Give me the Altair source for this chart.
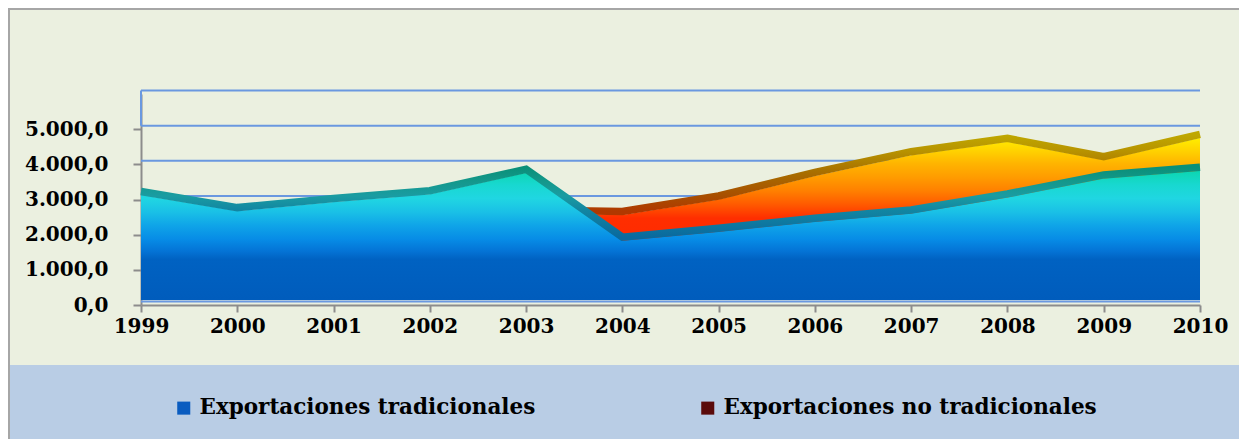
import altair as alt
import pandas as pd

# ---- data ----
years = [1999, 2000, 2001, 2002, 2003, 2004, 2005, 2006, 2007, 2008, 2009, 2010]
tradicionales = [3130, 2670, 2930, 3150, 3760, 1830, 2080, 2370, 2600, 3060, 3600, 3820]
nt_years = [2003, 2004, 2005, 2006, 2007, 2008, 2009, 2010]
no_tradicionales = [2600, 2560, 3000, 3670, 4260, 4640, 4120, 4750]
series_names = ["Exportaciones tradicionales", "Exportaciones no tradicionales"]
legend_colors = ["#0A5CC0", "#5A0A0A"]
y_tick_values = [0, 1000, 2000, 3000, 4000, 5000]
grid_levels = [0, 1000, 2000, 3000, 4000, 5000, 6000]
wall_top = [6000]
wall_bottom = [5000]

df_trad = pd.DataFrame({"year": years, "value": tradicionales, "serie": series_names[0]})
df_nt = pd.DataFrame({"year": nt_years, "value": no_tradicionales, "serie": series_names[1]})
df_long = pd.concat([df_trad, df_nt], ignore_index=True)
df_grid = pd.DataFrame({"v": grid_levels})
df_wall = pd.DataFrame({"a": wall_top, "b": wall_bottom})
dummy = pd.DataFrame({"d": [0]})

FONT = "DejaVu Serif"

xscale = alt.Scale(domain=[1999, 2010], nice=False, zero=False)
yscale = alt.Scale(domain=[0, 6000], nice=False)

x_axis = alt.Axis(
    title=None, values=years, format="d", labelFlush=False, labelOverlap=False,
    labelFont=FONT, labelFontSize=20, labelFontWeight="bold", labelColor="#000000",
    tickColor="#8C8C8C", tickSize=7, tickWidth=2, domainColor="#8C8C8C", domainWidth=2,
    labelPadding=4, grid=False,
)
y_axis = alt.Axis(
    title=None, values=y_tick_values, labelFlush=False,
    labelExpr="replace(replace(replace(format(datum.value, ',.1f'), ',', 'X'), '.', ','), 'X', '.')",
    labelFont=FONT, labelFontSize=20, labelFontWeight="bold", labelColor="#000000",
    tickColor="#8C8C8C", tickSize=8, tickWidth=2, domainColor="#8C8C8C", domainWidth=2,
    labelPadding=25, grid=False,
)


def grad(stops):
    return alt.Gradient(
        gradient="linear", x1=0, x2=0, y1=0, y2=1,
        stops=[alt.GradientStop(color=c, offset=o) for o, c in stops],
    )


blue_fill = grad([
    (0.0, "#0CD6B0"), (0.11, "#18D8D0"), (0.215, "#20D6E2"), (0.32, "#1AC0E6"),
    (0.424, "#0FA4E8"), (0.53, "#078CE6"), (0.62, "#0474D6"), (0.686, "#0062C2"),
    (1.0, "#005CBC"),
])
orange_fill = grad([
    (0.0, "#FFEE00"), (0.074, "#FFD400"), (0.158, "#FFB400"), (0.242, "#FF9C00"),
    (0.326, "#FF8000"), (0.41, "#FF5A00"), (0.495, "#FF2E00"), (1.0, "#FF2000"),
])
blue_line = grad([
    (0.0, "#0A9078"), (0.21, "#14988C"), (0.41, "#1A9CA2"), (0.61, "#1286A2"), (1.0, "#0A6A9E"),
])
orange_line = grad([
    (0.0, "#BFA800"), (0.205, "#B89400"), (0.48, "#A87000"), (0.8, "#A84E00"), (1.0, "#B03800"),
])

# decorations: legend band and frame
band = alt.Chart(dummy).mark_rect(color="#B9CDE5").encode(
    x=alt.value(-131), x2=alt.value(1098), y=alt.value(271), y2=alt.value(345)
)
frame_left = alt.Chart(dummy).mark_rule(color="#A6A6A6", strokeWidth=2).encode(
    x=alt.value(-132), y=alt.value(-86), y2=alt.value(345)
)
frame_top = alt.Chart(dummy).mark_rule(color="#A6A6A6", strokeWidth=2).encode(
    x=alt.value(-132), x2=alt.value(1098), y=alt.value(-85)
)

grid = alt.Chart(df_grid).mark_rule(color="#6A98E0", strokeWidth=2, yOffset=-3.5).encode(
    y=alt.Y("v:Q", scale=yscale, axis=y_axis)
)
wall = alt.Chart(df_wall).mark_rule(color="#6A98E0", strokeWidth=2, yOffset=-3.5, y2Offset=-3.5).encode(
    x=alt.value(0), y=alt.Y("a:Q", scale=yscale, axis=y_axis), y2="b:Q"
)

area_nt = alt.Chart(df_nt).mark_area(fill=orange_fill, y2Offset=-5).encode(
    x=alt.X("year:Q", scale=xscale, axis=x_axis),
    y=alt.Y("value:Q", scale=yscale, axis=y_axis),
    y2=alt.datum(0),
)
line_nt = alt.Chart(df_nt).mark_line(stroke=orange_line, strokeWidth=7.5, yOffset=-3.5,
                                     strokeJoin="miter", strokeCap="butt").encode(
    x=alt.X("year:Q", scale=xscale, axis=x_axis), y=alt.Y("value:Q", scale=yscale, axis=y_axis)
)
area_tr = alt.Chart(df_trad).mark_area(fill=blue_fill, y2Offset=-5).encode(
    x=alt.X("year:Q", scale=xscale, axis=x_axis),
    y=alt.Y("value:Q", scale=yscale, axis=y_axis),
    y2=alt.datum(0),
)
line_tr = alt.Chart(df_trad).mark_line(stroke=blue_line, strokeWidth=7.5, yOffset=-3.5,
                                      strokeJoin="miter", strokeCap="butt").encode(
    x=alt.X("year:Q", scale=xscale, axis=x_axis), y=alt.Y("value:Q", scale=yscale, axis=y_axis)
)

legend_pts = alt.Chart(df_long).mark_point(filled=True, shape="square", opacity=0).encode(
    x=alt.X("year:Q", scale=xscale, axis=x_axis),
    y=alt.Y("value:Q", scale=yscale, axis=y_axis),
    color=alt.Color(
        "serie:N",
        scale=alt.Scale(domain=series_names, range=legend_colors),
        legend=alt.Legend(
            title=None, orient="none", legendX=32, legendY=303, direction="horizontal",
            symbolType="square", symbolSize=170, symbolOpacity=1, symbolStrokeWidth=0,
            labelFont=FONT, labelFontSize=21.5, labelFontWeight="bold", labelColor="#000000",
            labelLimit=0, labelOffset=5, columnPadding=161, padding=0,
        ),
    ),
)

chart = alt.layer(
    band, frame_left, frame_top, grid, wall, area_nt, line_nt, area_tr, line_tr, legend_pts
).properties(
    width=1059, height=211,
    padding={"left": 133, "top": 86, "right": 39, "bottom": 134},
    autosize=alt.AutoSizeParams(type="none"),
    background="#EBF0E0",
).configure_view(stroke=None)

chart.save("out.html", embed_options={"renderer": "svg", "actions": False})
